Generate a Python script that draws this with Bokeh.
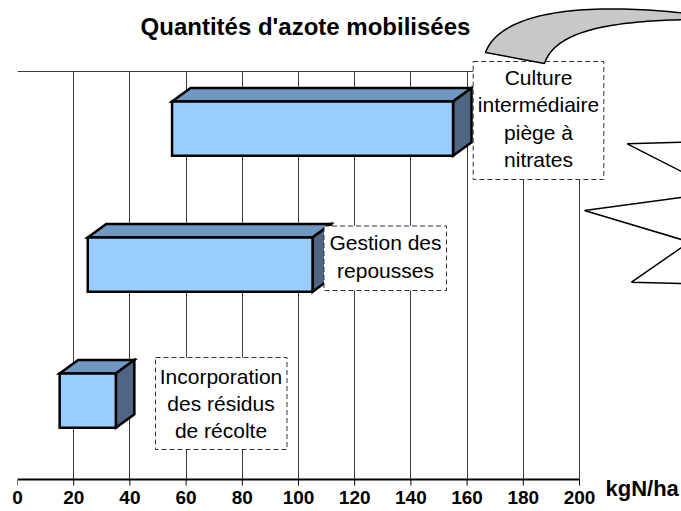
import numpy as np
from bokeh.plotting import figure
from bokeh.models import Range1d, FixedTicker
from bokeh.core.properties import value
from bokeh.embed import file_html
from bokeh.resources import INLINE

# ---------------- data ----------------
categories = ["Incorporation des résidus de récolte",
              "Gestion des repousses",
              "Culture intermédiaire piège à nitrates"]
n_start = [15, 25, 55]      # kgN/ha
n_end = [35, 105, 155]      # kgN/ha
x_ticks = [0, 20, 40, 60, 80, 100, 120, 140, 160, 180, 200]
title_text = "Quantités d'azote mobilisées"
unit_text = "kgN/ha"
box_lines = [["Incorporation", "des résidus", "de récolte"],
             ["Gestion des", "repousses"],
             ["Culture", "intermédiaire", "piège à", "nitrates"]]

# ---------------- layout ----------------
W, H = 681, 511
LEFT, BOTTOM = 17, 10
FRAME_W, FRAME_H = W - LEFT, H - BOTTOM
PX_X = 562 / 200.0          # pixels per kgN/ha
PX_Y = 136.0                # pixels per category band
AXIS_PY = 479               # pixel row of the axis line
TICK_LEN = 6
XEND = FRAME_W / PX_X
YSTART = -(FRAME_H - AXIS_PY) / PX_Y
YEND = AXIS_PY / PX_Y
X_MAX = 200
Y_TOP = 3
ORIG_X = LEFT
ORIG_Y = AXIS_PY


def X(px):
    return (np.asarray(px, dtype=float) - ORIG_X) / PX_X


def Y(py):
    return (ORIG_Y - np.asarray(py, dtype=float)) / PX_Y


BAR_OFFSET = 0.58
BAR_H = 0.40
DX = 18.5 / PX_X
DY = 13.5 / PX_Y

FONT = "Liberation Sans"

p = figure(width=W, height=H, x_range=Range1d(0, XEND), y_range=Range1d(YSTART, YEND),
           output_backend="svg", toolbar_location=None, y_axis_type=None,
           min_border_left=LEFT, min_border_right=0, min_border_top=0,
           min_border_bottom=BOTTOM)
p.outline_line_color = None
p.background_fill_color = "white"
p.border_fill_color = "white"

# x axis: tick labels from the library axis (pulled up next to the axis line)
ax = p.xaxis[0]
ax.ticker = FixedTicker(ticks=x_ticks)
ax.bounds = (0, X_MAX)
ax.axis_line_color = None
ax.major_tick_line_color = None
ax.major_tick_in = 0
ax.major_tick_out = 0
ax.minor_tick_line_color = None
ax.major_label_text_font = FONT
ax.major_label_text_font_style = "bold"
ax.major_label_text_font_size = "19px"
ax.major_label_text_color = "black"
ax.major_label_standoff = -11

g = p.xgrid[0]
g.ticker = FixedTicker(ticks=x_ticks)
g.bounds = (0, X_MAX)
g.cross_bounds = (0, Y_TOP)
g.grid_line_color = "#3a3a3a"
g.grid_line_width = 1

# top border of plot area, axis line and tick marks (0..200)
p.segment(x0=[0], y0=[Y_TOP], x1=[X_MAX], y1=[Y_TOP], line_color="#3a3a3a", line_width=1)
p.segment(x0=x_ticks, y0=[0] * len(x_ticks), x1=x_ticks, y1=[-TICK_LEN / PX_Y] * len(x_ticks),
          line_color="black", line_width=1)
p.segment(x0=[0], y0=[0], x1=[X_MAX], y1=[0], line_color="black", line_width=2)

# ---------------- 3D floating bars ----------------
idx = np.arange(len(categories))
s = np.array(n_start, dtype=float)
e = np.array(n_end, dtype=float)
bot = idx + BAR_OFFSET - BAR_H / 2
top = idx + BAR_OFFSET + BAR_H / 2

top_xs = [[a, b, b + DX, a + DX] for a, b in zip(s, e)]
top_ys = [[t, t, t + DY, t + DY] for t in top]
side_xs = [[b, b + DX, b + DX, b] for b in e]
side_ys = [[lo, lo + DY, t + DY, t] for lo, t in zip(bot, top)]

p.patches(top_xs, top_ys, fill_color="#7098C4", line_color="black", line_width=2.5, line_join="miter")
p.patches(side_xs, side_ys, fill_color="#4E6584", line_color="black", line_width=2.5, line_join="miter")
p.quad(left=s, right=e, bottom=bot, top=top, fill_color="#99CCFF", line_color="black",
       line_width=2.5, line_join="miter")

# ---------------- dashed text boxes ----------------
box_px = [(155, 286.5, 357, 449), (323.5, 446, 225.5, 290), (472.7, 603.3, 61, 179)]
for (l, r, t, b) in box_px:
    p.quad(left=[X(l)], right=[X(r)], top=[Y(t)], bottom=[Y(b)], fill_color="white",
           line_color="#333333", line_width=1, line_dash="5 3")

text_centers = [(220.5, 403), (385, 256), (538, 118)]
p.text(x=[X(c[0]) for c in text_centers], y=[Y(c[1]) for c in text_centers],
       text=["\n".join(lines) for lines in box_lines],
       text_align="center", text_baseline="middle", text_line_height=1.18,
       text_font=value(FONT), text_font_size="21px", text_color="black")

# ---------------- decorative shapes ----------------
def cubic(p0, c1, c2, p3, n=50):
    t = np.linspace(0, 1, n)[:, None]
    p0, c1, c2, p3 = map(np.asarray, (p0, c1, c2, p3))
    return (1 - t) ** 3 * p0 + 3 * (1 - t) ** 2 * t * c1 + 3 * (1 - t) * t ** 2 * c2 + t ** 3 * p3


outer = cubic((485, 52), (500, 12), (580, 0), (695, 14))
inner = cubic((544, 63), (555, 30), (610, 20), (695, 19))
arrow = np.vstack([outer, inner[::-1]])
p.patch(X(arrow[:, 0]), Y(arrow[:, 1]), fill_color="#C8C8C8", line_color="black", line_width=1.5)

spikes = [[(681, 141.7), (626.7, 143.3), (681, 171)],
          [(681, 197), (584, 210), (681, 239)],
          [(681, 247), (631, 281.7), (681, 283)]]
p.multi_line([list(X([q[0] for q in sp])) for sp in spikes],
             [list(Y([q[1] for q in sp])) for sp in spikes],
             line_color="black", line_width=1.5)

# ---------------- title & unit ----------------
p.text(x=[X(305)], y=[Y(25.5)], text=[title_text], text_align="center", text_baseline="middle",
       text_font=value(FONT), text_font_style="bold", text_font_size="24px", text_color="black")
p.text(x=[X(605)], y=[Y(487.5)], text=[unit_text], text_align="left", text_baseline="middle",
       text_font=value(FONT), text_font_style="bold", text_font_size="22px", text_color="black")

open("out.html", "w").write(file_html(p, INLINE))
